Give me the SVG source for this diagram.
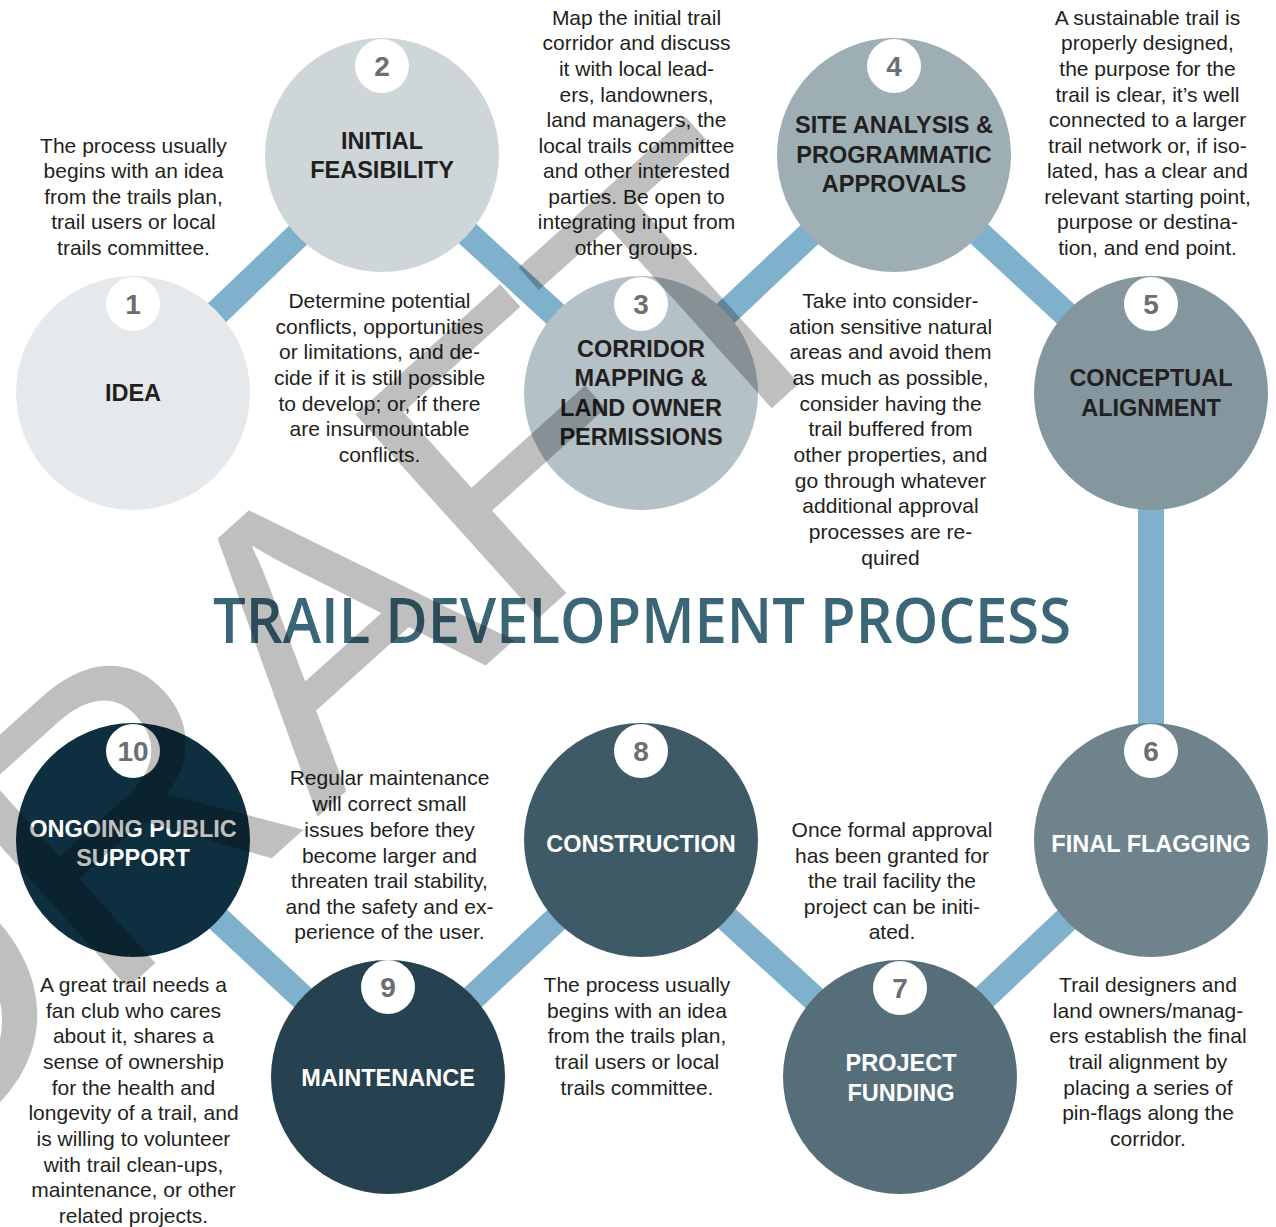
<svg xmlns="http://www.w3.org/2000/svg" width="1276" height="1227" viewBox="0 0 1276 1227">
  <style>
    .body { font-family: "Liberation Sans", Arial, sans-serif; font-size: 21px; fill: #231f20; text-anchor: middle; }
    .label { font-family: "Liberation Sans", Arial, sans-serif; font-size: 23.5px; font-weight: bold; text-anchor: middle; }
    .dark { fill: #231f20; }
    .light { fill: #ffffff; }
    .badge { fill: #ffffff; }
    .num { font-family: "Liberation Sans", Arial, sans-serif; font-size: 28px; font-weight: bold; fill: #6d6e71; text-anchor: middle; }
    .link { stroke: #7fb1cc; stroke-width: 26; fill: none; }
  </style>
  <rect width="1276" height="1227" fill="#ffffff"/>

  <!-- connectors between steps -->
  <g id="connectors">
    <line class="link" x1="133" y1="393" x2="382" y2="155"/>
    <line class="link" x1="382" y1="155" x2="641" y2="393"/>
    <line class="link" x1="641" y1="393" x2="894" y2="155"/>
    <line class="link" x1="894" y1="155" x2="1151" y2="393"/>
    <line class="link" x1="1151" y1="393" x2="1151" y2="840"/>
    <line class="link" x1="1151" y1="840" x2="900" y2="1077"/>
    <line class="link" x1="900" y1="1077" x2="641" y2="840"/>
    <line class="link" x1="641" y1="840" x2="388" y2="1077"/>
    <line class="link" x1="388" y1="1077" x2="133" y2="840"/>
  </g>

  <!-- step circles -->
  <g id="step1">
    <circle cx="133" cy="393" r="117" fill="#e5e9ec"/>
    <circle class="badge" cx="133" cy="304" r="27"/>
    <text class="num" x="133" y="314">1</text>
    <text class="label dark" x="133" y="401">IDEA</text>
  </g>
  <g id="step2">
    <circle cx="382" cy="155" r="117" fill="#ced6d9"/>
    <circle class="badge" cx="382" cy="66" r="27"/>
    <text class="num" x="382" y="76">2</text>
    <text class="label dark" x="382" y="149">INITIAL</text>
    <text class="label dark" x="382" y="178">FEASIBILITY</text>
  </g>
  <g id="step3">
    <circle cx="641" cy="393" r="117" fill="#b4c1c6"/>
    <circle class="badge" cx="641" cy="304" r="27"/>
    <text class="num" x="641" y="314">3</text>
    <text class="label dark" x="641" y="357">CORRIDOR</text>
    <text class="label dark" x="641" y="386">MAPPING &amp;</text>
    <text class="label dark" x="641" y="416">LAND OWNER</text>
    <text class="label dark" x="641" y="445">PERMISSIONS</text>
  </g>
  <g id="step4">
    <circle cx="894" cy="155" r="117" fill="#9daeb4"/>
    <circle class="badge" cx="894" cy="66" r="27"/>
    <text class="num" x="894" y="76">4</text>
    <text class="label dark" x="894" y="133">SITE ANALYSIS &amp;</text>
    <text class="label dark" x="894" y="163">PROGRAMMATIC</text>
    <text class="label dark" x="894" y="192">APPROVALS</text>
  </g>
  <g id="step5">
    <circle cx="1151" cy="393" r="117" fill="#84969e"/>
    <circle class="badge" cx="1151" cy="304" r="27"/>
    <text class="num" x="1151" y="314">5</text>
    <text class="label dark" x="1151" y="386">CONCEPTUAL</text>
    <text class="label dark" x="1151" y="416">ALIGNMENT</text>
  </g>
  <g id="step6">
    <circle cx="1151" cy="840" r="117" fill="#6e838c"/>
    <circle class="badge" cx="1151" cy="751" r="27"/>
    <text class="num" x="1151" y="761">6</text>
    <text class="label light" x="1151" y="852">FINAL FLAGGING</text>
  </g>
  <g id="step7">
    <circle cx="900" cy="1077" r="117" fill="#566e7a"/>
    <circle class="badge" cx="900" cy="988" r="27"/>
    <text class="num" x="900" y="998">7</text>
    <text class="label light" x="901" y="1071">PROJECT</text>
    <text class="label light" x="901" y="1101">FUNDING</text>
  </g>
  <g id="step8">
    <circle cx="641" cy="840" r="117" fill="#3e5a67"/>
    <circle class="badge" cx="641" cy="751" r="27"/>
    <text class="num" x="641" y="761">8</text>
    <text class="label light" x="641" y="852">CONSTRUCTION</text>
  </g>
  <g id="step9">
    <circle cx="388" cy="1077" r="117" fill="#26414f"/>
    <circle class="badge" cx="388" cy="987" r="27"/>
    <text class="num" x="388" y="997">9</text>
    <text class="label light" x="388" y="1086">MAINTENANCE</text>
  </g>
  <g id="step10">
    <circle cx="133" cy="840" r="117" fill="#0e2f3f"/>
    <circle class="badge" cx="133" cy="751" r="27"/>
    <text class="num" x="133" y="761">10</text>
    <text class="label light" x="133" y="837">ONGOING PUBLIC</text>
    <text class="label light" x="133" y="866">SUPPORT</text>
  </g>

  <!-- step descriptions (tspans kept on one line so no stray spaces shift the centring) -->
  <g id="notes">
    <text class="body"><tspan x="133.5" y="153">The process usually</tspan><tspan x="133.5" y="178">begins with an idea</tspan><tspan x="133.5" y="204">from the trails plan,</tspan><tspan x="133.5" y="229">trail users or local</tspan><tspan x="133.5" y="255">trails committee.</tspan></text>
    <text class="body"><tspan x="379.5" y="308">Determine potential</tspan><tspan x="379.5" y="334">conflicts, opportunities</tspan><tspan x="379.5" y="359">or limitations, and de-</tspan><tspan x="379.5" y="385">cide if it is still possible</tspan><tspan x="379.5" y="411">to develop; or, if there</tspan><tspan x="379.5" y="436">are insurmountable</tspan><tspan x="379.5" y="462">conflicts.</tspan></text>
    <text class="body"><tspan x="636.5" y="25">Map the initial trail</tspan><tspan x="636.5" y="50">corridor and discuss</tspan><tspan x="636.5" y="76">it with local lead-</tspan><tspan x="636.5" y="102">ers, landowners,</tspan><tspan x="636.5" y="127">land managers, the</tspan><tspan x="636.5" y="153">local trails committee</tspan><tspan x="636.5" y="178">and other interested</tspan><tspan x="636.5" y="204">parties. Be open to</tspan><tspan x="636.5" y="229">integrating input from</tspan><tspan x="636.5" y="255">other groups.</tspan></text>
    <text class="body"><tspan x="890.5" y="308">Take into consider-</tspan><tspan x="890.5" y="334">ation sensitive natural</tspan><tspan x="890.5" y="359">areas and avoid them</tspan><tspan x="890.5" y="385">as much as possible,</tspan><tspan x="890.5" y="411">consider having the</tspan><tspan x="890.5" y="436">trail buffered from</tspan><tspan x="890.5" y="462">other properties, and</tspan><tspan x="890.5" y="488">go through whatever</tspan><tspan x="890.5" y="513">additional approval</tspan><tspan x="890.5" y="539">processes are re-</tspan><tspan x="890.5" y="565">quired</tspan></text>
    <text class="body"><tspan x="1147.5" y="25">A sustainable trail is</tspan><tspan x="1147.5" y="50">properly designed,</tspan><tspan x="1147.5" y="76">the purpose for the</tspan><tspan x="1147.5" y="102">trail is clear, it’s well</tspan><tspan x="1147.5" y="127">connected to a larger</tspan><tspan x="1147.5" y="153">trail network or, if iso-</tspan><tspan x="1147.5" y="178">lated, has a clear and</tspan><tspan x="1147.5" y="204">relevant starting point,</tspan><tspan x="1147.5" y="229">purpose or destina-</tspan><tspan x="1147.5" y="255">tion, and end point.</tspan></text>
    <text class="body"><tspan x="389.5" y="785">Regular maintenance</tspan><tspan x="389.5" y="811">will correct small</tspan><tspan x="389.5" y="837">issues before they</tspan><tspan x="389.5" y="863">become larger and</tspan><tspan x="389.5" y="888">threaten trail stability,</tspan><tspan x="389.5" y="914">and the safety and ex-</tspan><tspan x="389.5" y="939">perience of the user.</tspan></text>
    <text class="body"><tspan x="892" y="837">Once formal approval</tspan><tspan x="892" y="863">has been granted for</tspan><tspan x="892" y="888">the trail facility the</tspan><tspan x="892" y="914">project can be initi-</tspan><tspan x="892" y="939">ated.</tspan></text>
    <text class="body"><tspan x="133.5" y="992">A great trail needs a</tspan><tspan x="133.5" y="1018">fan club who cares</tspan><tspan x="133.5" y="1043">about it, shares a</tspan><tspan x="133.5" y="1069">sense of ownership</tspan><tspan x="133.5" y="1095">for the health and</tspan><tspan x="133.5" y="1120">longevity of a trail, and</tspan><tspan x="133.5" y="1146">is willing to volunteer</tspan><tspan x="133.5" y="1172">with trail clean-ups,</tspan><tspan x="133.5" y="1197">maintenance, or other</tspan><tspan x="133.5" y="1223">related projects.</tspan></text>
    <text class="body"><tspan x="637" y="992">The process usually</tspan><tspan x="637" y="1018">begins with an idea</tspan><tspan x="637" y="1043">from the trails plan,</tspan><tspan x="637" y="1069">trail users or local</tspan><tspan x="637" y="1095">trails committee.</tspan></text>
    <text class="body"><tspan x="1148" y="992">Trail designers and</tspan><tspan x="1148" y="1018">land owners/manag-</tspan><tspan x="1148" y="1043">ers establish the final</tspan><tspan x="1148" y="1069">trail alignment by</tspan><tspan x="1148" y="1095">placing a series of</tspan><tspan x="1148" y="1120">pin-flags along the</tspan><tspan x="1148" y="1146">corridor.</tspan></text>
  </g>

  <!-- heading -->
  <text id="title" x="213" y="643" textLength="858" lengthAdjust="spacingAndGlyphs" font-family="'Open Sans', 'Noto Sans', sans-serif" font-weight="600" font-size="63" fill="#3b6677">TRAIL DEVELOPMENT PROCESS</text>

  <!-- draft watermark laid over everything -->
  <text id="watermark" x="-110" y="1202" transform="rotate(-42 -110 1202)" font-family="'Liberation Sans', Arial, sans-serif" font-size="398" fill="#000000" fill-opacity="0.25">DRAFT</text>
</svg>
